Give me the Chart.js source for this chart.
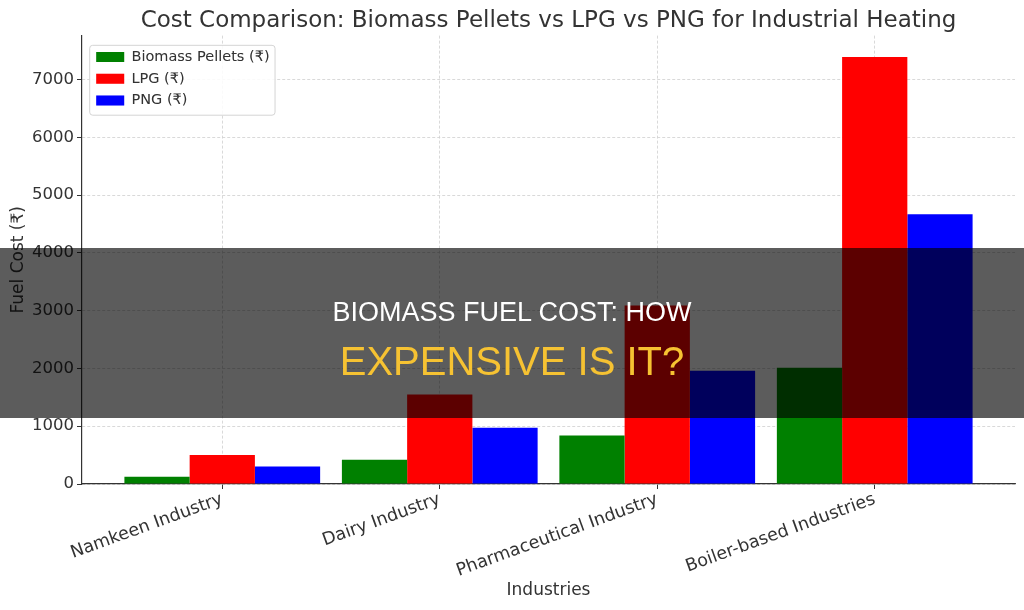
<!DOCTYPE html>
<html>
<head>
<meta charset="utf-8">
<title>Biomass fuel cost</title>
<script src="https://cdn.jsdelivr.net/npm/chart.js@4.4.1/dist/chart.umd.min.js"></script>
<style>
  html, body { margin: 0; padding: 0; background: #fff; }
  #wrap { position: relative; width: 1024px; height: 610px; overflow: hidden; }
  #banner { position: absolute; left: 0; top: 248px; width: 1024px; height: 170px; background: rgba(0, 0, 0, 0.64); }
  .line { position: absolute; left: 0; width: 1024px; text-align: center; line-height: 1; font-family: "Liberation Sans", Arial, sans-serif; }
  #l1 { top: 51px; font-size: 27px; color: #ffffff; }
  #l2 { top: 93px; font-size: 40px; color: #f6c232; }
</style>
</head>
<body>
<div id="wrap">
  <canvas id="myChart" width="1024" height="610"></canvas>
  <div id="banner">
    <div class="line" id="l1">BIOMASS FUEL COST: HOW</div>
    <div class="line" id="l2">EXPENSIVE IS IT?</div>
  </div>
</div>
<script>
const industries = ['Namkeen Industry', 'Dairy Industry', 'Pharmaceutical Industry', 'Boiler-based Industries'];
const biomassCost = [125, 420, 840, 2010];
const lpgCost = [500, 1550, 3090, 7390];
const pngCost = [305, 975, 1960, 4670];
const yTicks = [0, 1000, 2000, 3000, 4000, 5000, 6000, 7000];

const fontFamily = "'DejaVu Sans', 'Noto Sans', sans-serif";

function toPoints(values) {
    return values.map((v, i) => ({x: i, y: v}));
}

// cadre de la légende, puis on redessine la légende par-dessus la grille
const legendFrame = {
    id: 'legendFrame',
    afterLayout(chart) {
        const lg = chart.legend;
        lg.left = chart.chartArea.left + 7;
        lg.top = chart.chartArea.top + 7;
    },
    afterDraw(chart) {
        const boxes = chart.legend.legendHitBoxes;
        if (!boxes.length) return;
        const left = Math.min(...boxes.map(b => b.left)) - 7;
        const top = boxes[0].top - 5;
        const right = Math.max(...boxes.map(b => b.left + b.width)) + 5;
        const bottom = boxes[boxes.length - 1].top + boxes[boxes.length - 1].height + 7;
        const ctx = chart.ctx;
        ctx.save();
        ctx.beginPath();
        ctx.roundRect(left + 0.5, top + 0.5, right - left, bottom - top, 3);
        ctx.fillStyle = 'rgba(255,255,255,0.85)';
        ctx.fill();
        ctx.strokeStyle = '#d4d4d4';
        ctx.lineWidth = 1;
        ctx.stroke();
        ctx.restore();
        chart.legend.draw();
    }
};

const ctx = document.getElementById('myChart').getContext('2d');
const myChart = new Chart(ctx, {
    type: 'bar',
    data: {
        datasets: [{
            label: 'Biomass Pellets (₹)',
            data: toPoints(biomassCost),
            backgroundColor: '#008000'
        }, {
            label: 'LPG (₹)',
            data: toPoints(lpgCost),
            backgroundColor: '#ff0000'
        }, {
            label: 'PNG (₹)',
            data: toPoints(pngCost),
            backgroundColor: '#0000ff'
        }]
    },
    options: {
        responsive: false,
        animation: false,
        maintainAspectRatio: false,
        layout: { padding: { left: 0, right: 9, top: 0, bottom: 0 } },
        datasets: {
            bar: { categoryPercentage: 0.9, barPercentage: 1.0, borderWidth: 0 }
        },
        plugins: {
            title: {
                display: true,
                fullSize: false,
                text: 'Cost Comparison: Biomass Pellets vs LPG vs PNG for Industrial Heating',
                color: '#333333',
                font: { family: fontFamily, size: 23, weight: 'normal' },
                padding: { top: 7, bottom: 1 }
            },
            legend: {
                position: 'chartArea',
                align: 'start',
                labels: {
                    boxWidth: 28,
                    boxHeight: 10,
                    padding: 7.2,
                    color: '#333333',
                    font: { family: fontFamily, size: 14.5 }
                }
            },
            tooltip: { enabled: false }
        },
        scales: {
            x: {
                type: 'linear',
                min: -0.645,
                max: 3.645,
                offset: false,
                z: 1,
                afterBuildTicks: (axis) => {
                    axis.ticks = industries.map((_, i) => ({value: i}));
                },
                afterFit: (axis) => { axis.height = 126; },
                ticks: {
                    autoSkip: false,
                    minRotation: 20,
                    maxRotation: 20,
                    padding: 0,
                    color: '#333333',
                    font: { family: fontFamily, size: 17.5 },
                    callback: (value) => industries[value]
                },
                grid: {
                    offset: false,
                    color: '#cfcfcf',
                    lineWidth: 0.8,
                    tickColor: '#333333',
                    tickLength: 5,
                    tickWidth: 1,
                    tickBorderDash: []
                },
                border: { display: true, color: '#333333', width: 1.2, dash: [3, 2] },
                title: {
                    display: true,
                    text: 'Industries',
                    color: '#333333',
                    font: { family: fontFamily, size: 17 },
                    padding: { top: 0, bottom: 9 }
                }
            },
            y: {
                min: 0,
                max: 7760,
                z: 1,
                afterBuildTicks: (axis) => {
                    axis.ticks = yTicks.map(v => ({value: v}));
                },
                afterFit: (axis) => { axis.width = 82; },
                ticks: {
                    padding: 3,
                    color: '#333333',
                    font: { family: fontFamily, size: 16.5 },
                    callback: (value) => String(value)
                },
                grid: {
                    offset: false,
                    color: '#cfcfcf',
                    lineWidth: 0.8,
                    tickColor: '#333333',
                    tickLength: 5,
                    tickWidth: 1,
                    tickBorderDash: []
                },
                border: { display: true, color: '#333333', width: 1.2, dash: [3, 2] },
                title: {
                    display: true,
                    text: 'Fuel Cost (₹)',
                    color: '#333333',
                    font: { family: fontFamily, size: 17 },
                    padding: { top: 8, bottom: 0 }
                }
            }
        }
    },
    plugins: [legendFrame]
});
</script>
</body>
</html>
